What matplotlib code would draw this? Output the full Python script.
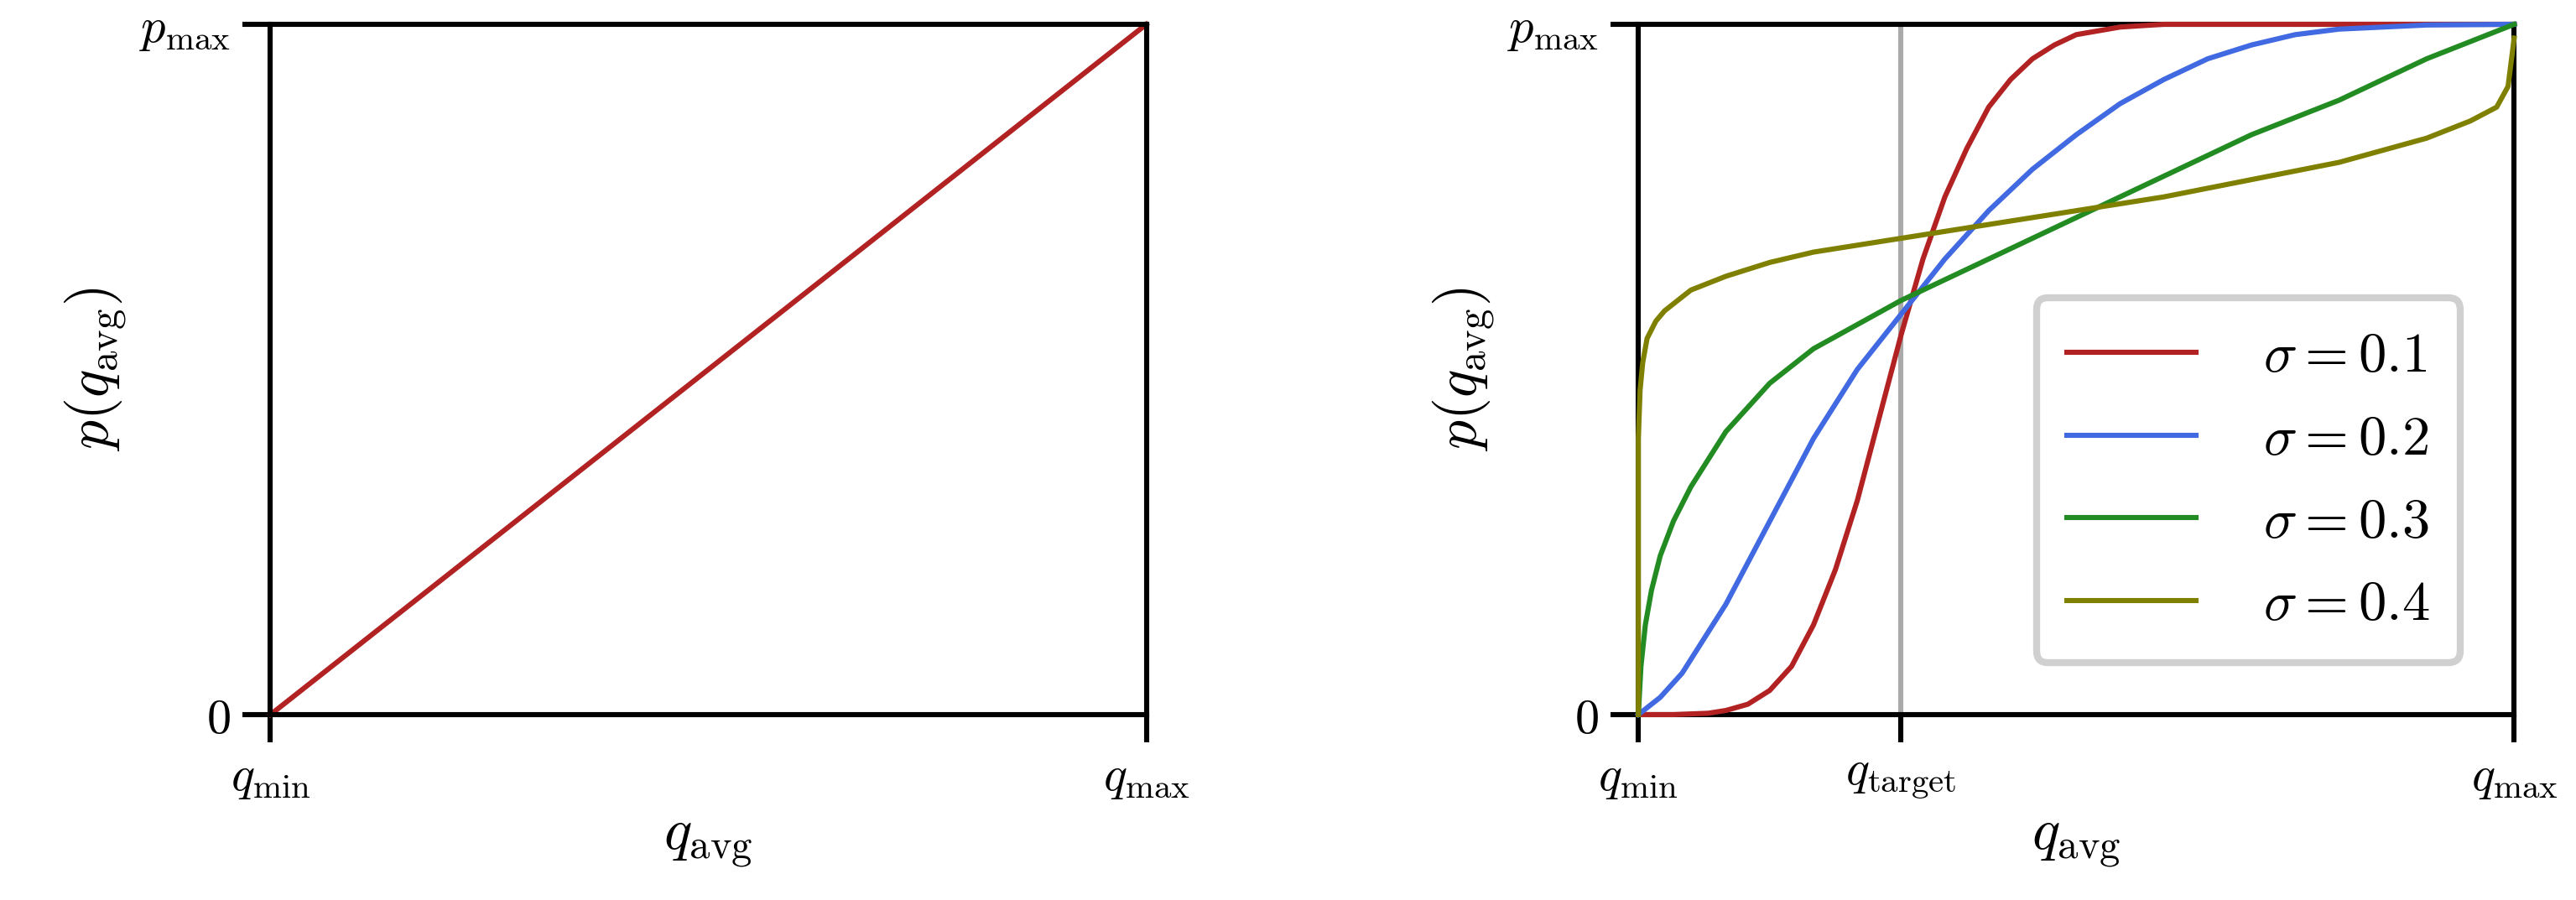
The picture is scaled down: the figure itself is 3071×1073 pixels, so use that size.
import matplotlib
matplotlib.use("Agg")
import matplotlib.pyplot as plt

plt.rcParams['mathtext.fontset'] = 'cm'
plt.rcParams['font.family'] = 'serif'
plt.rcParams['font.serif'] = ['DejaVu Serif']

# left panel: linear map
lin_x = [0.0, 1.0]
lin_y = [0.0, 1.0]

# right panel: values (x, p as fraction of range)
q_target = 0.30
s1_x = [0.0, 0.04, 0.08, 0.1, 0.125, 0.15, 0.175, 0.2, 0.225, 0.25, 0.275, 0.3, 0.325, 0.35, 0.375,
        0.4, 0.425, 0.45, 0.475, 0.5, 0.55, 0.6, 0.8, 1.0]
s1_y = [0.0, 0.0, 0.002, 0.006, 0.015, 0.035, 0.07, 0.13, 0.21, 0.31, 0.43, 0.55, 0.66, 0.75, 0.82,
        0.88, 0.92, 0.95, 0.97, 0.985, 0.996, 1.0, 1.0, 1.0]
s2_x = [0.0, 0.025, 0.05, 0.075, 0.1, 0.15, 0.2, 0.25, 0.3, 0.35, 0.4, 0.45, 0.5, 0.55, 0.6, 0.65,
        0.7, 0.75, 0.8, 0.9, 1.0]
s2_y = [0.0, 0.025, 0.06, 0.11, 0.16, 0.28, 0.40, 0.50, 0.58, 0.66, 0.73, 0.79, 0.84, 0.885, 0.92,
        0.95, 0.97, 0.985, 0.993, 0.999, 1.0]
s3_x = [0.0, 0.003, 0.008, 0.015, 0.025, 0.04, 0.06, 0.08, 0.1, 0.125, 0.15, 0.2, 0.25, 0.3, 0.4,
        0.5, 0.6, 0.7, 0.8, 0.9, 1.0]
s3_y = [0.0, 0.07, 0.13, 0.18, 0.23, 0.28, 0.33, 0.37, 0.41, 0.445, 0.48, 0.53, 0.565, 0.60, 0.66,
        0.72, 0.78, 0.84, 0.89, 0.95, 1.0]
s4_x = [0.0, 0.0, 0.002, 0.005, 0.01, 0.02, 0.03, 0.045, 0.06, 0.08, 0.1, 0.15, 0.2, 0.3, 0.4, 0.5,
        0.6, 0.7, 0.8, 0.9, 0.95, 0.98, 0.993, 1.0]
s4_y = [0.0, 0.40, 0.47, 0.51, 0.545, 0.57, 0.585, 0.60, 0.615, 0.625, 0.635, 0.655, 0.67, 0.69, 0.71,
        0.73, 0.75, 0.775, 0.80, 0.835, 0.86, 0.88, 0.91, 0.98]
labels = [r'$\sigma = 0.1$', r'$\sigma = 0.2$', r'$\sigma = 0.3$', r'$\sigma = 0.4$']
colors = ['#b22222', '#4169e1', '#228b22', '#808000']

fig = plt.figure(figsize=(15.355, 5.365), dpi=200)
ax1 = fig.add_axes([0.105, 0.206, 0.340, 0.767])
ax2 = fig.add_axes([0.636, 0.206, 0.340, 0.767])

def style(ax, xticks, xlabels):
    ax.set_xlim(0, 1)
    ax.set_ylim(0, 1)
    for s in ax.spines.values():
        s.set_linewidth(2.2)
    ax.set_xticks(xticks)
    ax.set_xticklabels(xlabels, fontsize=21)
    ax.set_yticks([0, 1])
    ax.set_yticklabels([r'$0$', r'$p_{\max}$'], fontsize=21)
    ax.tick_params(length=12, width=2.2, pad=5)
    ax.set_xlabel(r'$q_{\mathrm{avg}}$', fontsize=25, labelpad=6)
    ax.set_ylabel(r'$p(q_{\mathrm{avg}})$', fontsize=25, labelpad=4)

ax1.plot(lin_x, lin_y, color=colors[0], lw=2.2, clip_on=False)
style(ax1, [0, 1], [r'$q_{\min}$', r'$q_{\max}$'])

ax2.axvline(q_target, color='#aaaaaa', lw=2.2, zorder=1)
for xs, ys, lab, c in zip([s1_x, s2_x, s3_x, s4_x], [s1_y, s2_y, s3_y, s4_y], labels, colors):
    ax2.plot(xs, ys, color=c, lw=2.2, label=lab, clip_on=False, zorder=3)
style(ax2, [0, q_target, 1], [r'$q_{\min}$', r'$q_{\mathrm{target}}$', r'$q_{\max}$'])
leg = ax2.legend(loc='lower right', bbox_to_anchor=(0.97, 0.035), fontsize=24,
                 fancybox=True, framealpha=1, handlelength=2.3, labelspacing=0.5,
                 borderpad=0.55, handletextpad=1.2)
leg.get_frame().set_edgecolor('#d0d0d0')
leg.get_frame().set_linewidth(3)

fig.savefig('out.png', dpi=200)
